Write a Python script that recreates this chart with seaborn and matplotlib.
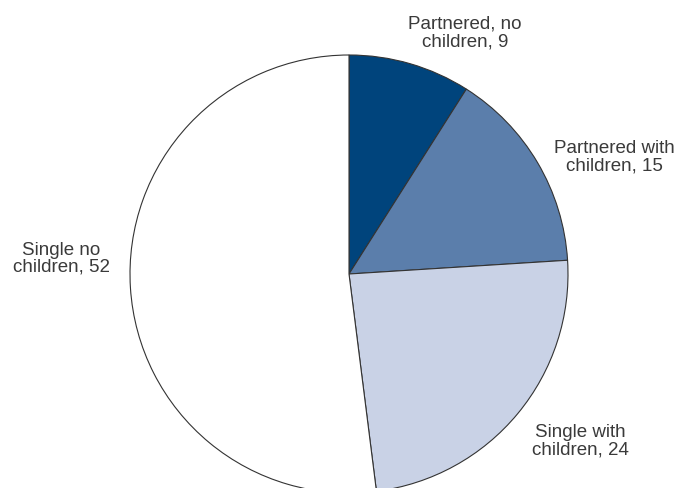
import matplotlib
matplotlib.use("Agg")
import matplotlib.pyplot as plt
import seaborn as sns

# Household composition shares
categories = ["Partnered, no\nchildren", "Partnered with\nchildren", "Single with\nchildren", "Single no\nchildren"]
shares = [9, 15, 24, 52]
slice_colors = ["#00447C", "#5B7EAB", "#C9D2E6", "#FFFFFF"]

sns.set_theme(style="white")
plt.rcParams["font.family"] = ["Liberation Sans", "DejaVu Sans"]

fig = plt.figure(figsize=(6.8, 4.88), dpi=100)
ax = fig.add_axes([0, 0, 1, 1])

wedges, _ = ax.pie(
    shares,
    colors=slice_colors,
    startangle=90,
    counterclock=False,
    radius=1.0,
    wedgeprops=dict(edgecolor="#333333", linewidth=0.8),
)

ax.set_xlim(-349 / 219, 331 / 219)
ax.set_ylim(-214 / 219, 274 / 219)
ax.axis("off")

# label anchor points (data units, pie radius = 1)
label_xy = [(0.530, 1.100), (1.210, 0.534), (1.058, -0.763), (-1.315, 0.070)]
for name, val, (lx, ly) in zip(categories, shares, label_xy):
    ax.text(lx, ly, f"{name}, {val}", ha="center", va="center",
            multialignment="center", fontsize=13.5, color="#3a3a3a",
            linespacing=1.02)

fig.savefig("out.png", dpi=100, facecolor="white")
